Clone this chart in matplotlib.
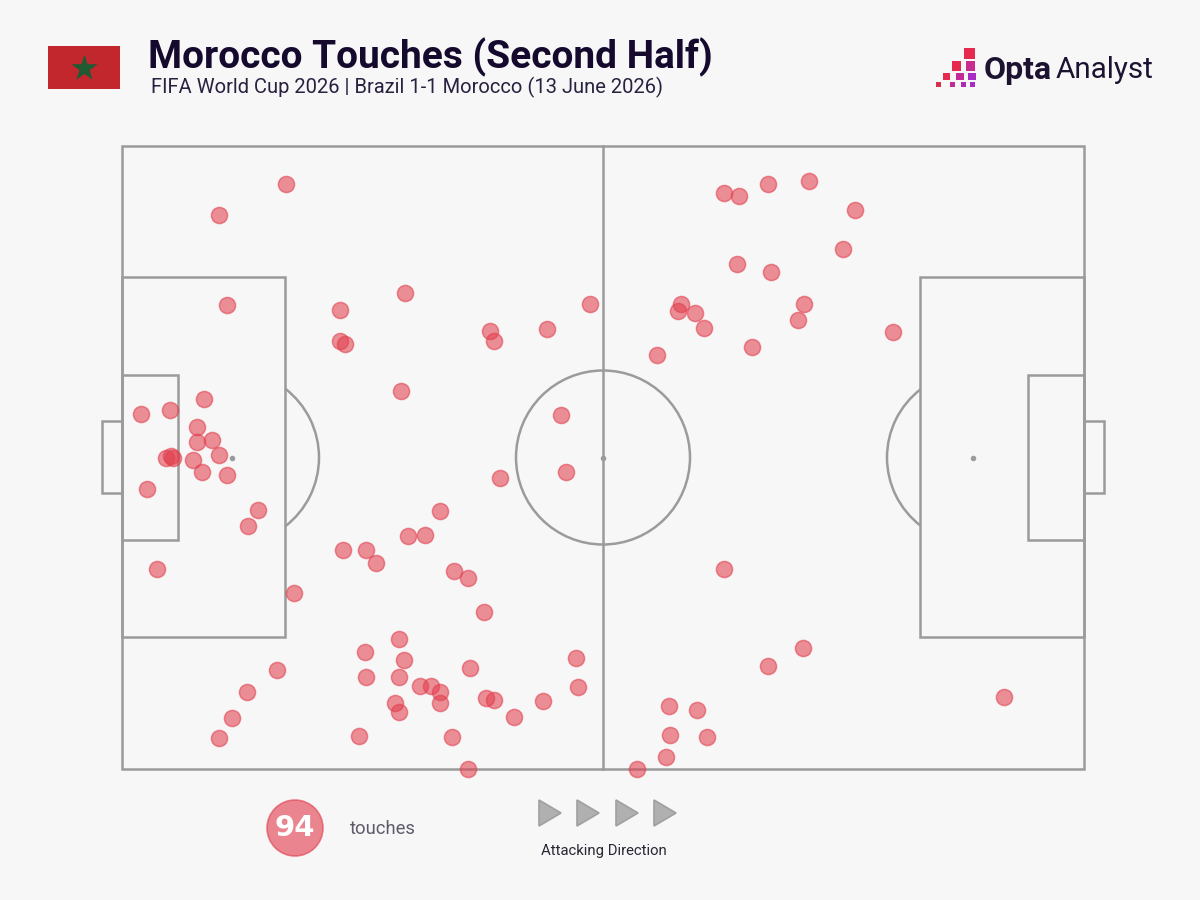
import matplotlib
matplotlib.use("Agg")
import matplotlib.pyplot as plt
from matplotlib.patches import Arc, Circle, Polygon, Rectangle

touch_x = [286, 219, 724, 739, 768, 809, 855, 843, 737, 771, 227, 405, 340, 340, 345, 490, 494, 547, 590, 681,
           678, 695, 704, 657, 752, 798, 804, 893, 401, 204, 141, 170, 197, 212, 197, 219, 193, 166, 171, 173,
           202, 227, 147, 258, 248, 157, 561, 566, 500, 440, 408, 425, 343, 366, 376, 454, 468, 294, 484, 724,
           399, 365, 404, 277, 366, 399, 470, 576, 578, 420, 431, 440, 440, 395, 399, 486, 494, 543, 514, 247,
           232, 219, 359, 452, 468, 637, 666, 670, 669, 697, 707, 768, 803, 1004]
touch_y = [184, 215, 193, 196, 184, 181, 210, 249, 264, 272, 305, 293, 310, 341, 344, 331, 341, 329, 304, 304,
           311, 313, 328, 355, 347, 320, 304, 332, 391, 399, 414, 410, 427, 440, 442, 455, 460, 458, 456, 458,
           472, 475, 489, 510, 526, 569, 415, 472, 478, 511, 536, 535, 550, 550, 563, 571, 578, 593, 612, 569,
           639, 652, 660, 670, 677, 677, 668, 658, 687, 686, 686, 692, 703, 703, 712, 698, 700, 701, 717, 692,
           718, 738, 736, 737, 769, 769, 757, 735, 706, 710, 737, 666, 648, 697]

title = "Morocco Touches (Second Half)"
subtitle = "FIFA World Cup 2026 | Brazil 1-1 Morocco (13 June 2026)"
touch_count = "94"

BG = "#F7F7F7"
LINE = "#9B9B9B"
RED = "#E2404F"
NAVY = "#150A2D"
LW = 1.8

fig = plt.figure(figsize=(12, 9), dpi=100, facecolor=BG)
ax = fig.add_axes([0, 0, 1, 1])
ax.set_xlim(0, 1200)
ax.set_ylim(900, 0)
ax.axis("off")


def box(x0, y0, x1, y1):
    ax.add_patch(Rectangle((x0, y0), x1 - x0, y1 - y0, fill=False, ec=LINE, lw=LW, zorder=1))


# pitch
box(122, 146, 1084, 769)
box(122, 277, 285, 637)
box(920, 277, 1084, 637)
box(122, 375, 178, 540)
box(1028, 375, 1084, 540)
box(102, 421, 122, 493)
box(1084, 421, 1104, 493)
ax.plot([603, 603], [146, 769], color=LINE, lw=LW, zorder=1)
ax.add_patch(Circle((603, 457.5), 87, fill=False, ec=LINE, lw=LW, zorder=1))
ax.add_patch(Arc((232, 457.5), 174, 174, theta1=-52.5, theta2=52.5, ec=LINE, lw=LW, zorder=1))
ax.add_patch(Arc((973, 457.5), 172, 172, theta1=127.5, theta2=232.5, ec=LINE, lw=LW, zorder=1))
ax.scatter([232, 603, 973], [457.5, 457.5, 457.5], s=16, color=LINE, lw=0, zorder=1)

ax.scatter(touch_x, touch_y, s=135, color=RED, alpha=0.58, lw=1.1, edgecolor=RED, zorder=3, clip_on=False)

# header
ax.add_patch(Rectangle((48, 46), 72, 43, color="#C1272D", lw=0))
ax.scatter([84], [68], marker="*", s=400, color="#1F5A32", lw=0)
ax.text(148, 57, title, fontsize=28, fontweight="bold", family="Roboto", color=NAVY, va="center", ha="left")
ax.text(151, 87, subtitle, fontsize=14.5, family="Roboto", color="#2A2140", va="center", ha="left")

# logo
logo_squares = [(969.5, 53.5, 11.5, "#E5294F"), (956.5, 66, 9.5, "#E5294F"), (970.5, 66, 9.5, "#C92C8F"),
                (946.5, 76.5, 7.5, "#E5294F"), (960, 76.5, 7.5, "#C42A96"), (972, 76.5, 7.5, "#A72BC4"),
                (938.5, 84.5, 5, "#D8304F"), (952, 84.5, 5, "#C42A96"), (963.5, 84.5, 5, "#B02BB5"),
                (972.5, 84.5, 5, "#A72BC4")]
for sx, sy, size, col in logo_squares:
    ax.add_patch(Rectangle((sx - size / 2, sy - size / 2), size, size, color=col, lw=0))
ax.text(984, 70, "Opta", fontsize=23, fontweight="bold", family="Roboto", color="#1E1233", va="center", ha="left")
ax.text(1056, 70, "Analyst", fontsize=21.3, family="Roboto", color="#1E1233", va="center", ha="left")

# footer
ax.add_patch(Circle((295, 828), 28, fc=RED, ec=RED, alpha=0.62, lw=1.2))
ax.text(295, 828, touch_count, fontsize=21, fontweight="bold", family="DejaVu Sans", color="white", va="center", ha="center")
ax.text(350, 829, "touches", fontsize=13.2, family="Roboto", color="#5F5A6B", va="center", ha="left")
for ax0 in [539, 577, 616, 654]:
    ax.add_patch(Polygon([(ax0, 800), (ax0 + 22, 813), (ax0, 826)], closed=True, fc="#B0B0B0", ec="#A0A0A0", lw=1.2))
ax.text(603.5, 851, "Attacking Direction", fontsize=10.7, family="Roboto", color="#2A2633", va="center", ha="center")

fig.savefig("out.png", dpi=100, facecolor=BG)
